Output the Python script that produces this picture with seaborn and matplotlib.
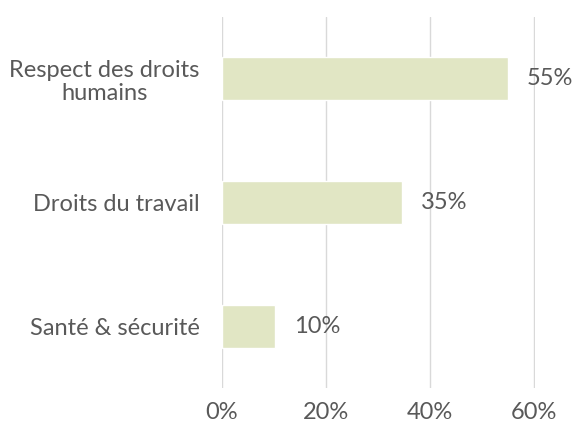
import matplotlib
matplotlib.use("Agg")
import matplotlib.pyplot as plt
import matplotlib.ticker as mtick
import seaborn as sns
import pandas as pd

categories = ["Respect des droits\nhumains", "Droits du travail", "Santé & sécurité"]
values = [0.55, 0.346, 0.102]
value_labels = ["55%", "35%", "10%"]

sns.set_theme(style="white")
plt.rcParams["font.family"] = ["Lato", "DejaVu Sans"]

text_color = "#595959"
bar_color = "#e1e6c4"

df = pd.DataFrame({"category": categories, "value": values})

fig = plt.figure(figsize=(5.73, 4.28), dpi=100)
ax = fig.add_axes([222 / 573, 1 - 388 / 428, (535 - 222) / 573, (388 - 17) / 428])

sns.barplot(data=df, y="category", x="value", color=bar_color, saturation=1,
            width=0.35, ax=ax)

ax.set_xlim(0, 0.602)
ax.set_xticks([0, 0.2, 0.4, 0.6])
ax.xaxis.set_major_formatter(mtick.PercentFormatter(1.0, decimals=0))
ax.grid(axis="x", color="#d9d9d9", linewidth=1.0)
ax.set_axisbelow(True)
for s in ax.spines.values():
    s.set_visible(False)
ax.set_xlabel("")
ax.set_ylabel("")
ax.tick_params(axis="both", length=0, labelsize=17, colors=text_color)
ax.tick_params(axis="x", pad=10)
ax.tick_params(axis="y", pad=16)
for lbl in ax.get_yticklabels():
    lbl.set_multialignment("center")
    lbl.set_linespacing(1.15)

for i, (v, t) in enumerate(zip(values, value_labels)):
    ax.text(v + 0.036, i, t, va="center", ha="left", fontsize=17,
            color=text_color, clip_on=False)

fig.savefig("out.png", dpi=100)
